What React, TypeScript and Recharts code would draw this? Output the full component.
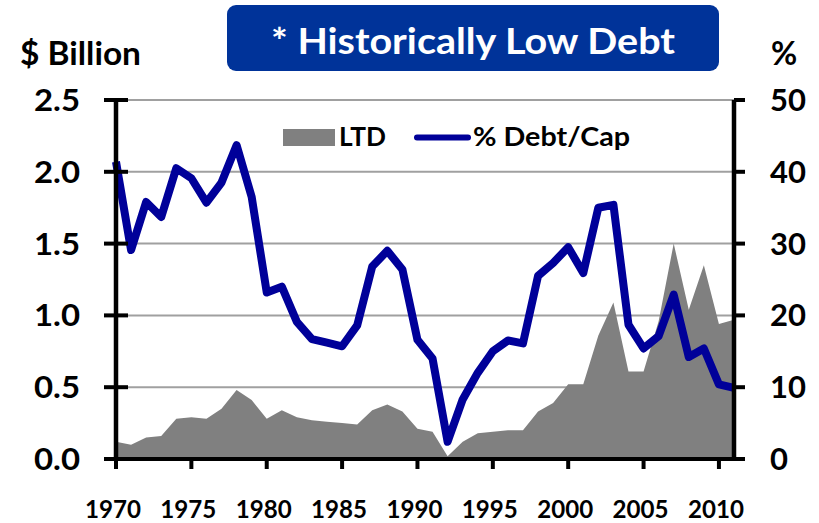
import React from 'react';
import { ComposedChart, Area, Line, XAxis, YAxis, CartesianGrid, Legend } from 'recharts';

const years = [1970,1971,1972,1973,1974,1975,1976,1977,1978,1979,1980,1981,1982,1983,1984,1985,1986,1987,1988,1989,1990,1991,1992,1993,1994,1995,1996,1997,1998,1999,2000,2001,2002,2003,2004,2005,2006,2007,2008,2009,2010,2011];
const ltd = [0.12,0.10,0.15,0.16,0.28,0.29,0.28,0.35,0.48,0.41,0.28,0.34,0.29,0.27,0.26,0.25,0.24,0.34,0.38,0.33,0.21,0.19,0.02,0.12,0.18,0.19,0.20,0.20,0.33,0.39,0.52,0.52,0.86,1.09,0.61,0.61,0.96,1.50,1.04,1.35,0.94,0.97];
const debtCap = [41.4,29.1,35.8,33.7,40.5,39.1,35.7,38.5,43.7,36.5,23.2,24.0,19.1,16.7,16.2,15.7,18.6,26.8,29.0,26.4,16.6,14.0,2.4,8.3,12.0,15.0,16.5,16.1,25.5,27.3,29.5,25.9,35.0,35.4,18.7,15.4,17.1,22.9,14.2,15.4,10.4,9.9];
const leftTicks = [0,0.5,1.0,1.5,2.0,2.5];
const rightTicks = [0,10,20,30,40,50];
const xTicks = [1970,1975,1980,1985,1990,1995,2000,2005,2010];

const data = years.map((y, i) => ({ year: y, ltd: ltd[i], debt: debtCap[i] }));

const FONT = 'Lato, "Open Sans", sans-serif';
const LINE_COLOR = '#000099';
const AREA_COLOR = '#808080';

const LeftTick = (props: any) => {
  const { x, y, payload } = props;
  return (
    <g>
      <line x1={x + 36} x2={x + 48} y1={y} y2={y} stroke="#000" strokeWidth={4} />
      <text x={x} y={y + 11} textAnchor="end" fontFamily={FONT} fontWeight={700} fontSize={31} fill="#000" textLength={46} lengthAdjust="spacingAndGlyphs">
        {Number(payload.value).toFixed(1)}
      </text>
    </g>
  );
};

const RightTick = (props: any) => {
  const { x, y, payload } = props;
  return (
    <text x={x} y={y + 11} textAnchor="start" fontFamily={FONT} fontWeight={700} fontSize={31} fill="#000">
      {payload.value}
    </text>
  );
};

const BottomTick = (props: any) => {
  const { x, y, payload } = props;
  return (
    <text x={x - 3} y={y + 17.5} textAnchor="middle" fontFamily={FONT} fontWeight={700} fontSize={24.5} fill="#000" textLength={56} lengthAdjust="spacingAndGlyphs">
      {payload.value}
    </text>
  );
};

const LegendContent = (props: any) => {
  const { payload } = props;
  const items = payload || [];
  const area = items.find((p: any) => p.dataKey === 'ltd');
  const line = items.find((p: any) => p.dataKey === 'debt');
  return (
    <svg width={360} height={40} style={{ display: 'block' }}>
      {area && (
        <g>
          <rect x={3} y={11} width={52} height={17} fill={AREA_COLOR} />
          <text x={59} y={28} fontFamily={FONT} fontWeight={700} fontSize={26} fill="#000" textLength={47} lengthAdjust="spacingAndGlyphs">{area.value}</text>
        </g>
      )}
      {line && (
        <g>
          <line x1={137} x2={188} y1={19.5} y2={19.5} stroke={LINE_COLOR} strokeWidth={6} strokeLinecap="round" />
          <text x={193} y={28} fontFamily={FONT} fontWeight={700} fontSize={26} fill="#000" textLength={157} lengthAdjust="spacingAndGlyphs">{line.value}</text>
        </g>
      )}
    </svg>
  );
};

export default function App() {
  return (
    <div style={{ position: 'relative', width: 819, height: 523, background: '#fff' }}>
      <style>{`body{margin:0;}`}</style>
      <ComposedChart width={819} height={523} data={data} margin={{ top: 100, right: 0, bottom: 0, left: 0 }}>
        <CartesianGrid yAxisId="left" horizontal vertical={false} stroke="#a0a0a0" strokeWidth={2} />
        <Area
          yAxisId="left"
          type="linear"
          dataKey="ltd"
          name="LTD"
          fill={AREA_COLOR}
          fillOpacity={1}
          stroke="none"
          isAnimationActive={false}
        />
        <Line
          yAxisId="right"
          type="linear"
          dataKey="debt"
          name="% Debt/Cap"
          stroke={LINE_COLOR}
          strokeWidth={8}
          strokeLinejoin="round"
          dot={false}
          activeDot={false}
          isAnimationActive={false}
        />
        <XAxis
          dataKey="year"
          type="number"
          domain={[1970, 2011]}
          ticks={xTicks}
          interval={0}
          height={64}
          axisLine={{ stroke: '#000', strokeWidth: 4 }}
          tickLine={{ stroke: '#000', strokeWidth: 4 }}
          tickSize={10}
          tickMargin={31}
          tick={<BottomTick />}
        />
        <YAxis
          yAxisId="left"
          orientation="left"
          width={116}
          domain={[0, 2.5]}
          ticks={leftTicks}
          interval={0}
          axisLine={{ stroke: '#000', strokeWidth: 4.5 }}
          tickLine={{ stroke: '#000', strokeWidth: 4 }}
          tickSize={12}
          tickMargin={24}
          tick={<LeftTick />}
        />
        <YAxis
          yAxisId="right"
          orientation="right"
          width={85}
          domain={[0, 50]}
          ticks={rightTicks}
          interval={0}
          axisLine={{ stroke: '#000', strokeWidth: 4.5 }}
          tickLine={{ stroke: '#000', strokeWidth: 4 }}
          tickSize={11}
          tickMargin={25}
          tick={<RightTick />}
        />
        <Legend
          layout="horizontal"
          verticalAlign="middle"
          align="center"
          content={<LegendContent />}
          wrapperStyle={{ position: 'absolute', left: 280, top: 118, width: 360, height: 40 }}
        />
      </ComposedChart>
      <svg width={819} height={100} style={{ position: 'absolute', left: 0, top: 0, pointerEvents: 'none' }}>
        <text x={20} y={65} fontFamily={FONT} fontWeight={700} fontSize={32} fill="#000" textLength={121} lengthAdjust="spacingAndGlyphs">$ Billion</text>
        <text x={771} y={65} fontFamily={FONT} fontWeight={700} fontSize={32} fill="#000">%</text>
      </svg>
      <div style={{ position: 'absolute', left: 227, top: 5, width: 492, height: 66, background: '#003399', borderRadius: 9 }}>
        <svg width={492} height={66} style={{ display: 'block' }}>
          <text x={246} y={48.5} textAnchor="middle" fontFamily={FONT} fontWeight={700} fontSize={37} fill="#fff" textLength={404} lengthAdjust="spacingAndGlyphs">* Historically Low Debt</text>
        </svg>
      </div>
    </div>
  );
}
